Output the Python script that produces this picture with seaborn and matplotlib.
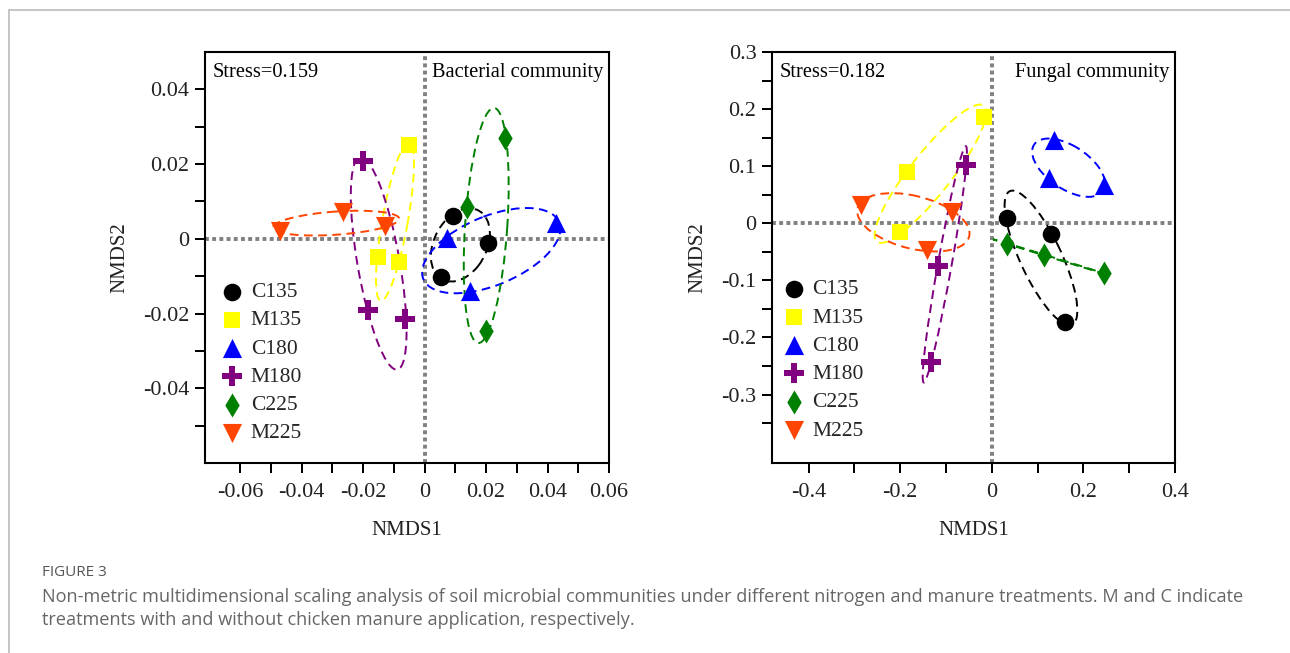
import numpy as np
import pandas as pd
import matplotlib
matplotlib.use("Agg")
import matplotlib.pyplot as plt
import seaborn as sns
from matplotlib.patches import Ellipse
from matplotlib.lines import Line2D
from matplotlib.ticker import FixedLocator, FuncFormatter

# ---------------- data ----------------
groups = ["C135", "M135", "C180", "M180", "C225", "M225"]
colors = ["#000000", "#FFFF00", "#0000FF", "#800080", "#008000", "#FF4500"]
markers = ["o", "s", "^", "P", "d", "v"]
marker_sizes = [160, 117, 190, 200, 150, 190]

sample_group = ["C135"] * 3 + ["M135"] * 3 + ["C180"] * 3 + ["M180"] * 3 + ["C225"] * 3 + ["M225"] * 3

bac_nmds1 = [0.0091, 0.0206, 0.0052,
             -0.0052, -0.0153, -0.0085,
             0.0074, 0.0147, 0.0429,
             -0.0202, -0.0184, -0.0063,
             0.0261, 0.0139, 0.0201,
             -0.0470, -0.0265, -0.0130]
bac_nmds2 = [0.0062, -0.0010, -0.0101,
             0.0251, -0.0050, -0.0061,
             0.0002, -0.0139, 0.0042,
             0.0207, -0.0190, -0.0215,
             0.0269, 0.0086, -0.0248,
             0.0020, 0.0073, 0.0033]

fun_nmds1 = [0.033, 0.129, 0.160,
             -0.017, -0.185, -0.200,
             0.135, 0.124, 0.244,
             -0.057, -0.118, -0.133,
             0.033, 0.114, 0.244,
             -0.285, -0.087, -0.142]
fun_nmds2 = [0.009, -0.018, -0.173,
             0.186, 0.090, -0.016,
             0.146, 0.079, 0.067,
             0.102, -0.075, -0.243,
             -0.036, -0.055, -0.088,
             0.032, 0.020, -0.047]

bac_xticks = [-0.06, -0.04, -0.02, 0, 0.02, 0.04, 0.06]
bac_yticks = [-0.04, -0.02, 0, 0.02, 0.04]
fun_xticks = [-0.4, -0.2, 0, 0.2, 0.4]
fun_yticks = [-0.3, -0.2, -0.1, 0, 0.1, 0.2, 0.3]

bac_stress = "Stress=0.159"
fun_stress = "Stress=0.182"
bac_title = "Bacterial community"
fun_title = "Fungal community"

bac_df = pd.DataFrame({"NMDS1": bac_nmds1, "NMDS2": bac_nmds2, "group": sample_group})
fun_df = pd.DataFrame({"NMDS1": fun_nmds1, "NMDS2": fun_nmds2, "group": sample_group})

# ---------------- style ----------------
sns.set_style("ticks")
plt.rcParams["font.family"] = ["Liberation Serif", "DejaVu Serif"]
plt.rcParams["axes.unicode_minus"] = False

fig = plt.figure(figsize=(12.9, 6.53), dpi=100)
ax1 = fig.add_axes([205 / 1290, 1 - 463 / 653, 404 / 1290, 411 / 653])
ax2 = fig.add_axes([772 / 1290, 1 - 463 / 653, 403 / 1290, 411 / 653])

ELL_R = 1.2


def draw_ellipse(ax, xs, ys, color):
    pts = np.column_stack([xs, ys])
    mu = pts.mean(axis=0)
    cov = np.cov(pts, rowvar=False)
    vals, vecs = np.linalg.eigh(cov)
    order = vals.argsort()[::-1]
    vals, vecs = vals[order], vecs[:, order]
    angle = np.degrees(np.arctan2(vecs[1, 0], vecs[0, 0]))
    w, h = 2 * ELL_R * np.sqrt(np.maximum(vals, 0))
    e = Ellipse(mu, w, h, angle=angle, fill=False, edgecolor=color,
                linewidth=1.4, linestyle=(0, (4.5, 2.8)), zorder=2)
    ax.add_patch(e)


def fmt(v, pos):
    if abs(v) < 1e-12:
        return "0"
    return "%g" % round(v, 6)


def midpoints(ticks, lo, hi):
    step = ticks[1] - ticks[0]
    margin = 0.02 * (hi - lo)
    cands = [ticks[0] - step / 2] + [t + step / 2 for t in ticks]
    return [c for c in cands if lo + margin <= c <= hi - margin]


def panel(ax, df, xlim, ylim, xt, yt, stress, title, leg_anchor):
    ax.axhline(0, color="#808080", lw=2.8, ls=(0, (1, 0.85)), zorder=1)
    ax.axvline(0, color="#808080", lw=2.8, ls=(0, (1, 0.85)), zorder=1)
    for g, c in zip(groups, colors):
        sub = df[df["group"] == g]
        draw_ellipse(ax, sub["NMDS1"].values, sub["NMDS2"].values, c)
    for g, c, m, s in zip(groups, colors, markers, marker_sizes):
        sub = df[df["group"] == g]
        sns.scatterplot(data=sub, x="NMDS1", y="NMDS2", ax=ax, color=c, marker=m,
                        s=s, linewidth=0, edgecolor=c, label=g, zorder=3)
    ax.set_xlim(*xlim)
    ax.set_ylim(*ylim)
    ax.xaxis.set_major_locator(FixedLocator(xt))
    ax.xaxis.set_minor_locator(FixedLocator(midpoints(xt, *xlim)))
    ax.yaxis.set_major_locator(FixedLocator(yt))
    ax.yaxis.set_minor_locator(FixedLocator(midpoints(yt, *ylim)))
    ax.xaxis.set_major_formatter(FuncFormatter(fmt))
    ax.yaxis.set_major_formatter(FuncFormatter(fmt))
    ax.tick_params(which="both", direction="out", length=7.2, width=1.44,
                   color="black", labelsize=16, labelcolor="#222222")
    ax.tick_params(axis="x", pad=7)
    ax.tick_params(axis="y", pad=4)
    for sp in ax.spines.values():
        sp.set_visible(True)
        sp.set_linewidth(1.5)
        sp.set_color("black")
    ax.set_xlabel("NMDS1", fontsize=15, color="#222222", labelpad=14)
    ax.set_ylabel("NMDS2", fontsize=15, color="#222222", labelpad=10)
    ax.text(0.02, 0.951, stress, transform=ax.transAxes, fontsize=14.7,
            ha="left", va="center", color="black")
    ax.text(0.985, 0.951, title, transform=ax.transAxes, fontsize=14.7,
            ha="right", va="center", color="black")
    handles, labels = ax.get_legend_handles_labels()
    ax.legend(handles, labels, loc="upper left", bbox_to_anchor=leg_anchor,
              frameon=False, fontsize=15.5, borderpad=0, borderaxespad=0,
              handlelength=1.0, handletextpad=0.38, labelspacing=0.38,
              markerscale=1.0)


panel(ax1, bac_df, (-0.0715, 0.06), (-0.06, 0.05), bac_xticks, bac_yticks,
      bac_stress, bac_title, (0.040, 0.440))
panel(ax2, fun_df, (-0.48, 0.4), (-0.42, 0.3), fun_xticks, fun_yticks,
      fun_stress, fun_title, (0.027, 0.447))

# frame lines
fig.add_artist(Line2D([8.5 / 1290, 8.5 / 1290], [0, 1 - 10 / 653],
                      transform=fig.transFigure, color="#bbbbbb", lw=1.2))
fig.add_artist(Line2D([8.5 / 1290, 1], [1 - 10 / 653, 1 - 10 / 653],
                      transform=fig.transFigure, color="#bbbbbb", lw=1.2))

# caption
cap_font = ["Open Sans", "DejaVu Sans"]
fig.text(42 / 1290, 1 - 572 / 653, "FIGURE 3", fontsize=11, color="#555555",
         family=cap_font, ha="left", va="center")
fig.text(42 / 1290, 1 - 597 / 653,
         "Non-metric multidimensional scaling analysis of soil microbial communities under different nitrogen and manure treatments. M and C indicate",
         fontsize=13.1, color="#666666", family=cap_font, ha="left", va="center")
fig.text(42 / 1290, 1 - 620 / 653,
         "treatments with and without chicken manure application, respectively.",
         fontsize=13.1, color="#666666", family=cap_font, ha="left", va="center")

fig.savefig("out.png", dpi=100)
